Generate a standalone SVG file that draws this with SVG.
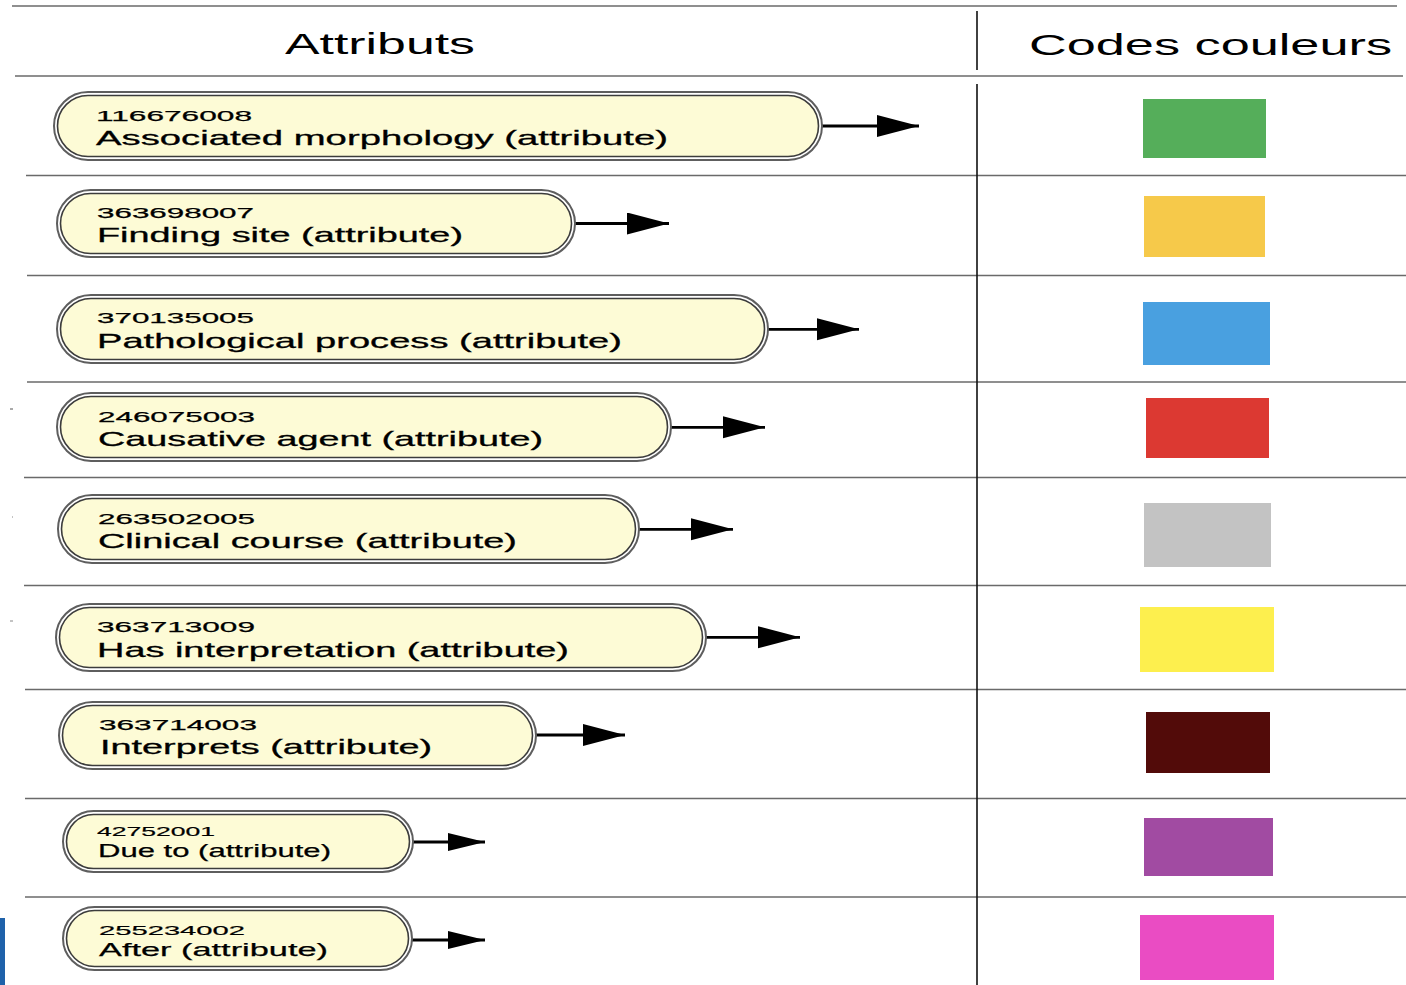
<svg xmlns="http://www.w3.org/2000/svg" width="1406" height="985" viewBox="0 0 1406 985">
<style>
  .hdr { font-family: "Liberation Sans", Arial, sans-serif; font-size: 29px; fill: #000; }
  .num { font-family: "Liberation Sans", Arial, sans-serif; font-size: 15.5px; fill: #000; stroke: #000; stroke-width: 0.25; }
  .lbl { font-family: "Liberation Sans", Arial, sans-serif; font-size: 21px; fill: #000; stroke: #000; stroke-width: 0.3; }
  .num-s { font-family: "Liberation Sans", Arial, sans-serif; font-size: 13.5px; fill: #000; stroke: #000; stroke-width: 0.2; }
  .lbl-s { font-family: "Liberation Sans", Arial, sans-serif; font-size: 19px; fill: #000; stroke: #000; stroke-width: 0.25; }
  .outer { fill: #ffffff; stroke: #5e5e5e; stroke-width: 2; }
  .inner { fill: #fdfbd6; stroke: #3c3c3c; stroke-width: 1.6; }
  .sep { stroke: #6a6a6a; stroke-width: 1.6; }
  .vline { stroke: #111; stroke-width: 1.6; }
  .edge { stroke: #000; stroke-width: 2.8; fill: none; }
</style>
<defs>
  <marker id="arrow" markerUnits="userSpaceOnUse" markerWidth="44" markerHeight="24" refX="42" refY="11" orient="auto">
    <path d="M0,0 L42,11 L0,22 Z" fill="#000"/>
  </marker>
  <marker id="arrow-s" markerUnits="userSpaceOnUse" markerWidth="40" markerHeight="20" refX="37" refY="9" orient="auto">
    <path d="M0,0 L37,9 L0,18 Z" fill="#000"/>
  </marker>
</defs>
<rect x="0" y="0" width="1406" height="985" fill="#ffffff"/>

<g id="grid">
  <line class="sep" x1="12" y1="6" x2="1397" y2="6"/>
  <line class="sep" x1="15" y1="76" x2="1403" y2="76"/>
  <line class="sep" x1="26" y1="175.5" x2="1406" y2="175.5"/>
  <line class="sep" x1="27" y1="275.5" x2="1406" y2="275.5"/>
  <line class="sep" x1="27" y1="382" x2="1406" y2="382"/>
  <line class="sep" x1="24" y1="477.5" x2="1406" y2="477.5"/>
  <line class="sep" x1="24" y1="585.5" x2="1406" y2="585.5"/>
  <line class="sep" x1="25" y1="689.5" x2="1406" y2="689.5"/>
  <line class="sep" x1="25" y1="798.5" x2="1406" y2="798.5"/>
  <line class="sep" x1="25" y1="897" x2="1406" y2="897"/>
  <line class="vline" x1="977" y1="11" x2="977" y2="70"/>
  <line class="vline" x1="977" y1="84" x2="977" y2="985"/>
  <line x1="10" y1="409" x2="13" y2="409" stroke="#555" stroke-width="1"/>
  <line x1="12" y1="517" x2="13" y2="517" stroke="#888" stroke-width="1"/>
  <line x1="10" y1="621" x2="13" y2="621" stroke="#888" stroke-width="1"/>
  <rect x="0" y="918" width="5" height="67" fill="#1f62aa"/>
</g>

<g id="headers">
  <text class="hdr" x="285" y="54" textLength="190" lengthAdjust="spacingAndGlyphs">Attributs</text>
  <text class="hdr" x="1029" y="55" textLength="363" lengthAdjust="spacingAndGlyphs">Codes couleurs</text>
</g>

<g id="connectors">
  <line class="edge" x1="822" y1="126" x2="919" y2="126" marker-end="url(#arrow)"/>
  <line class="edge" x1="575" y1="223.5" x2="669" y2="223.5" marker-end="url(#arrow)"/>
  <line class="edge" x1="768" y1="329.3" x2="859" y2="329.3" marker-end="url(#arrow)"/>
  <line class="edge" x1="671" y1="427.3" x2="765" y2="427.3" marker-end="url(#arrow)"/>
  <line class="edge" x1="639" y1="529.3" x2="733" y2="529.3" marker-end="url(#arrow)"/>
  <line class="edge" x1="706" y1="637.3" x2="800" y2="637.3" marker-end="url(#arrow)"/>
  <line class="edge" x1="536" y1="735" x2="625" y2="735" marker-end="url(#arrow)"/>
  <line class="edge" x1="413" y1="842" x2="485" y2="842" marker-end="url(#arrow-s)"/>
  <line class="edge" x1="412" y1="940" x2="485" y2="940" marker-end="url(#arrow-s)"/>
</g>

<g id="node-116676008">
  <rect class="outer" x="54" y="92" width="768" height="68" rx="34" ry="34"/>
  <rect class="inner" x="57.5" y="95.5" width="761" height="61" rx="30.5" ry="30.5"/>
  <text class="num" x="96" y="120.5" textLength="156" lengthAdjust="spacingAndGlyphs">116676008</text>
  <text class="lbl" x="96" y="144.5" textLength="572" lengthAdjust="spacingAndGlyphs">Associated morphology (attribute)</text>
</g>

<g id="node-363698007">
  <rect class="outer" x="57" y="190" width="518" height="67" rx="33.5" ry="33.5"/>
  <rect class="inner" x="60.5" y="193.5" width="511" height="60" rx="30" ry="30"/>
  <text class="num" x="97" y="217.8" textLength="157" lengthAdjust="spacingAndGlyphs">363698007</text>
  <text class="lbl" x="97" y="241.7" textLength="366" lengthAdjust="spacingAndGlyphs">Finding site (attribute)</text>
</g>

<g id="node-370135005">
  <rect class="outer" x="57" y="295" width="711" height="68" rx="34" ry="34"/>
  <rect class="inner" x="60.5" y="298.5" width="704" height="61" rx="30.5" ry="30.5"/>
  <text class="num" x="97" y="323.3" textLength="157" lengthAdjust="spacingAndGlyphs">370135005</text>
  <text class="lbl" x="97" y="348.3" textLength="525" lengthAdjust="spacingAndGlyphs">Pathological process (attribute)</text>
</g>

<g id="node-246075003">
  <rect class="outer" x="57" y="393" width="614" height="68" rx="34" ry="34"/>
  <rect class="inner" x="60.5" y="396.5" width="607" height="61" rx="30.5" ry="30.5"/>
  <text class="num" x="98" y="421.7" textLength="157" lengthAdjust="spacingAndGlyphs">246075003</text>
  <text class="lbl" x="98" y="445.7" textLength="445" lengthAdjust="spacingAndGlyphs">Causative agent (attribute)</text>
</g>

<g id="node-263502005">
  <rect class="outer" x="58" y="495" width="581" height="68" rx="34" ry="34"/>
  <rect class="inner" x="61.5" y="498.5" width="574" height="61" rx="30.5" ry="30.5"/>
  <text class="num" x="98" y="524" textLength="157" lengthAdjust="spacingAndGlyphs">263502005</text>
  <text class="lbl" x="98" y="548.3" textLength="419" lengthAdjust="spacingAndGlyphs">Clinical course (attribute)</text>
</g>

<g id="node-363713009">
  <rect class="outer" x="56" y="604" width="650" height="67" rx="33.5" ry="33.5"/>
  <rect class="inner" x="59.5" y="607.5" width="643" height="60" rx="30" ry="30"/>
  <text class="num" x="97" y="632.3" textLength="158" lengthAdjust="spacingAndGlyphs">363713009</text>
  <text class="lbl" x="97" y="656.5" textLength="472" lengthAdjust="spacingAndGlyphs">Has interpretation (attribute)</text>
</g>

<g id="node-363714003">
  <rect class="outer" x="59" y="702" width="477" height="67" rx="33.5" ry="33.5"/>
  <rect class="inner" x="62.5" y="705.5" width="470" height="60" rx="30" ry="30"/>
  <text class="num" x="99" y="730" textLength="158" lengthAdjust="spacingAndGlyphs">363714003</text>
  <text class="lbl" x="100" y="754" textLength="332" lengthAdjust="spacingAndGlyphs">Interprets (attribute)</text>
</g>

<g id="node-42752001">
  <rect class="outer" x="63" y="811" width="350" height="61" rx="30.5" ry="30.5"/>
  <rect class="inner" x="66.5" y="814.5" width="343" height="54" rx="27" ry="27"/>
  <text class="num-s" x="97" y="836" textLength="118" lengthAdjust="spacingAndGlyphs">42752001</text>
  <text class="lbl-s" x="98" y="857" textLength="233" lengthAdjust="spacingAndGlyphs">Due to (attribute)</text>
</g>

<g id="node-255234002">
  <rect class="outer" x="63" y="907" width="349" height="63" rx="31.5" ry="31.5"/>
  <rect class="inner" x="66.5" y="910.5" width="342" height="56" rx="28" ry="28"/>
  <text class="num-s" x="99" y="935" textLength="146" lengthAdjust="spacingAndGlyphs">255234002</text>
  <text class="lbl-s" x="99" y="956" textLength="229" lengthAdjust="spacingAndGlyphs">After (attribute)</text>
</g>

<g id="color-codes">
  <rect id="color-1" x="1143" y="99" width="123" height="59" fill="#55ae5a"/>
  <rect id="color-2" x="1144" y="196" width="121" height="61" fill="#f6c94a"/>
  <rect id="color-3" x="1143" y="302" width="127" height="63" fill="#49a0e0"/>
  <rect id="color-4" x="1146" y="398" width="123" height="60" fill="#dc3932"/>
  <rect id="color-5" x="1144" y="503" width="127" height="64" fill="#c3c3c3"/>
  <rect id="color-6" x="1140" y="607" width="134" height="65" fill="#fdef4e"/>
  <rect id="color-7" x="1146" y="712" width="124" height="61" fill="#520b09"/>
  <rect id="color-8" x="1144" y="818" width="129" height="58" fill="#a14ba2"/>
  <rect id="color-9" x="1140" y="915" width="134" height="65" fill="#ea4cc3"/>
</g>
</svg>
